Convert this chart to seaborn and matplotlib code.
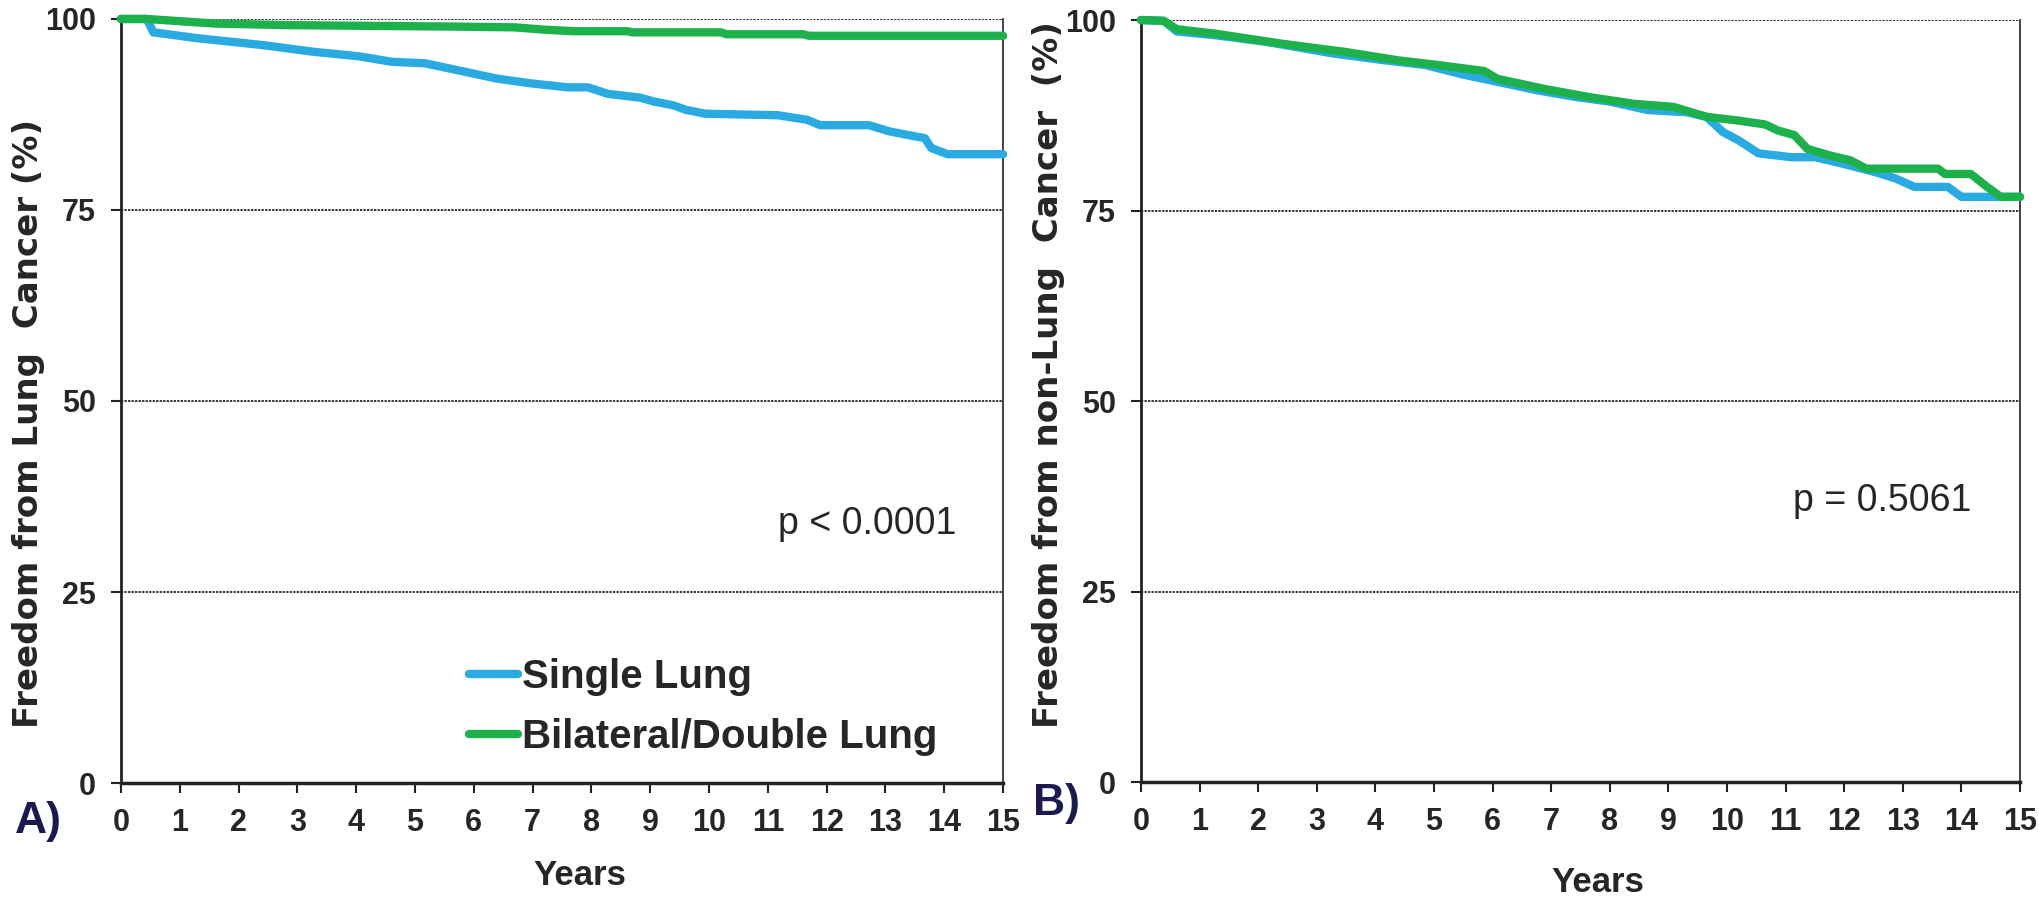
import pandas as pd
import seaborn as sns
import matplotlib.pyplot as plt

# --- data (years, % free from cancer) ---
a_single_years = [0, 0.44, 0.55, 1.28, 2.39, 3.28, 4.06, 4.6, 5.17, 5.72, 6.39, 6.94, 7.6, 7.94,
                  8.28, 8.83, 9.06, 9.39, 9.61, 9.94, 11.17, 11.67, 11.89, 12.72, 13.06, 13.39,
                  13.67, 13.78, 14.06, 15]
a_single_vals = [100, 100, 98.25, 97.5, 96.6, 95.7, 95.1, 94.4, 94.2, 93.3, 92.2, 91.6, 91.05, 91.05,
                 90.2, 89.7, 89.2, 88.7, 88.1, 87.6, 87.4, 86.8, 86.1, 86.1, 85.3, 84.8,
                 84.4, 83.1, 82.3, 82.3]
a_double_years = [0, 0.44, 1.6, 2.8, 4.2, 5.7, 6.7, 7.2, 7.7, 8.6, 8.7, 10.2, 10.3, 11.6, 11.7, 15]
a_double_vals = [100, 100, 99.4, 99.2, 99.1, 99.0, 98.9, 98.6, 98.4, 98.4, 98.25, 98.25, 98.0, 98.0,
                 97.8, 97.8]

b_single_years = [0, 0.39, 0.61, 1.28, 2.17, 3.29, 4.18, 4.85, 5.52, 6.08, 6.75, 7.42, 8.0, 8.64,
                  9.31, 9.65, 9.93, 10.2, 10.54, 11.1, 11.5, 12.0, 12.55, 12.88, 13.2, 13.77, 14.0, 15]
b_single_vals = [100, 99.9, 98.5, 98.0, 97.1, 95.6, 94.7, 94.1, 92.8, 91.9, 90.8, 89.9, 89.3, 88.2,
                 87.9, 87.3, 85.3, 84.2, 82.5, 82.0, 82.0, 81.1, 80.0, 79.2, 78.1, 78.1, 76.8, 76.8]
b_double_years = [0, 0.39, 0.61, 1.28, 2.4, 3.5, 4.4, 5.07, 5.86, 6.08, 6.86, 7.64, 8.42, 9.09, 9.65,
                  10.2, 10.65, 10.87, 11.15, 11.37, 11.77, 12.1, 12.38, 13.6, 13.72, 14.16, 14.44,
                  14.67, 15]
b_double_vals = [100, 99.9, 98.8, 98.2, 96.9, 95.8, 94.7, 94.1, 93.3, 92.3, 91.0, 89.9, 89.0, 88.6,
                 87.3, 86.8, 86.3, 85.5, 84.9, 83.1, 82.2, 81.6, 80.5, 80.5, 79.8, 79.8, 78.1,
                 76.8, 76.8]

groups = ['Single Lung', 'Bilateral/Double Lung']
colors = {'Single Lung': '#29abe2', 'Bilateral/Double Lung': '#1db14b'}
y_ticks = [0, 25, 50, 75, 100]
x_ticks = list(range(16))
p_texts = ['p < 0.0001', 'p = 0.5061']
y_labels = ['Freedom from Lung  Cancer (%)', 'Freedom from non-Lung  Cancer  (%)']
panel_tags = ['A)', 'B)']

NARROW = ['Liberation Sans', 'DejaVu Sans']
WIDE = ['DejaVu Sans']


def make_frame(s_years, s_vals, d_years, d_vals):
    a = pd.DataFrame({'Years': s_years, 'pct': s_vals, 'group': groups[0]})
    b = pd.DataFrame({'Years': d_years, 'pct': d_vals, 'group': groups[1]})
    return pd.concat([a, b], ignore_index=True)


frames = [make_frame(a_single_years, a_single_vals, a_double_years, a_double_vals),
          make_frame(b_single_years, b_single_vals, b_double_years, b_double_vals)]

sns.set_style('white')
plt.rcParams['font.family'] = NARROW

fig = plt.figure(figsize=(20.4, 8.99), dpi=100)
axes = [fig.add_axes([0.0593, 0.129, 0.4324, 0.8499]),
        fig.add_axes([0.5593, 0.1301, 0.4309, 0.8476])]

p_pos = [(0.846, 0.339), (0.843, 0.369)]
years_y = [-0.0995, -0.11]
ylab_pos = [(-0.086, 0.47), (-0.0865, 0.5345)]

for i, ax in enumerate(axes):
    sns.lineplot(data=frames[i], x='Years', y='pct', hue='group', palette=colors,
                 hue_order=groups, linewidth=6,
                 ax=ax, legend=(i == 0), clip_on=False, zorder=3)
    ax.set_xlim(0, 15)
    ax.set_ylim(0, 100)
    ax.set_xticks(x_ticks)
    ax.set_yticks(y_ticks)
    for v in y_ticks[1:]:
        ax.axhline(v, color='black', linestyle=(0, (1.5, 0.8)), linewidth=1.1, zorder=1)
    ax.spines['top'].set_visible(False)
    ax.spines['left'].set_linewidth(2)
    ax.spines['bottom'].set_linewidth(2.5)
    ax.spines['right'].set_linewidth(1.2)
    for s in ax.spines.values():
        s.set_color('#222222')
    ax.tick_params(axis='both', which='major', direction='out', length=7, width=1.5,
                   color='#222222', labelsize=22, pad=11)
    ax.tick_params(axis='x', bottom=True)
    ax.tick_params(axis='y', left=True)
    for lab in ax.get_xticklabels() + ax.get_yticklabels():
        lab.set_fontweight('bold')
    ax.set_xlabel('Years', fontsize=25, fontweight='bold', family=NARROW)
    ax.xaxis.set_label_coords(0.52, years_y[i])
    ax.set_ylabel(y_labels[i], fontsize=24.5, fontweight='bold', family=WIDE)
    ax.yaxis.set_label_coords(*ylab_pos[i])
    ax.text(p_pos[i][0], p_pos[i][1], p_texts[i],
            transform=ax.transAxes, fontsize=27, ha='center', va='center')

leg = axes[0].legend(loc='upper left', bbox_to_anchor=(0.395, 0.1635), frameon=False,
                     fontsize=29, handlelength=1.2, handletextpad=0.1, labelspacing=0.55,
                     borderpad=0, borderaxespad=0)
for t in leg.get_texts():
    t.set_fontweight('bold')
for h in leg.get_lines():
    h.set_linewidth(6)
    h.set_solid_capstyle('round')

fig.text(38 / 2040, 1 - 822 / 899, panel_tags[0], fontsize=32, fontweight='bold',
         color='#1a1a50', ha='center', va='center', family=['Liberation Sans', 'DejaVu Sans'])
fig.text(1056 / 2040, 1 - 803 / 899, panel_tags[1], fontsize=32, fontweight='bold',
         color='#1a1a50', ha='center', va='center', family=['Liberation Sans', 'DejaVu Sans'])

fig.savefig('out.png', dpi=100)
